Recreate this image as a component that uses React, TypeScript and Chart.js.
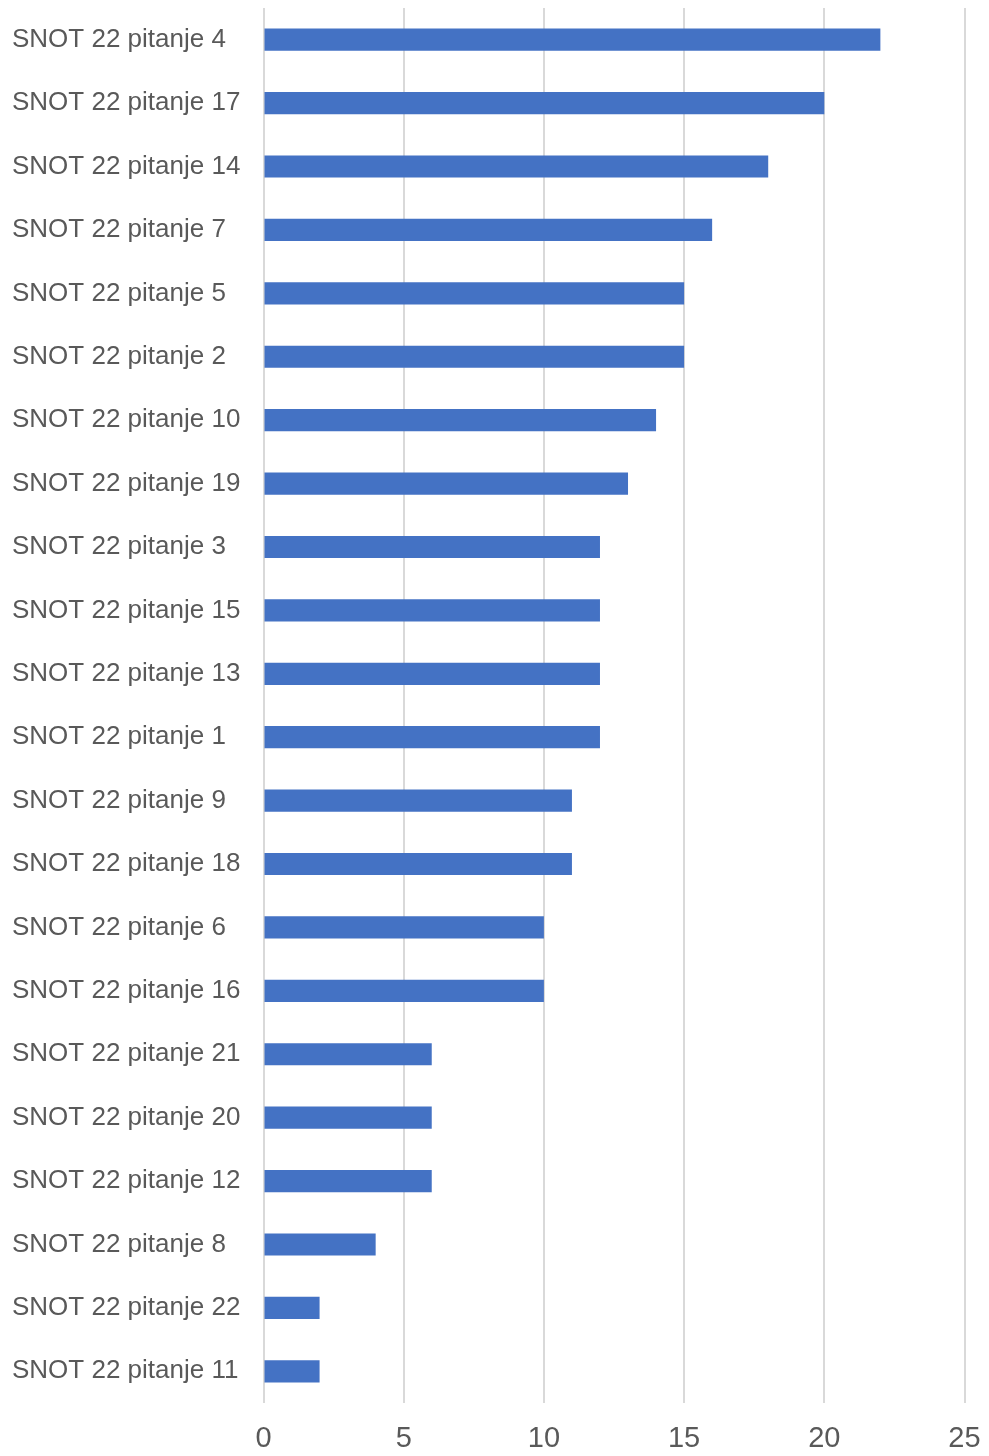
import React, { useEffect, useRef } from "react";
import { Chart, registerables } from "chart.js";

Chart.register(...registerables);

const categories = [
  "SNOT 22 pitanje 4",
  "SNOT 22 pitanje 17",
  "SNOT 22 pitanje 14",
  "SNOT 22 pitanje 7",
  "SNOT 22 pitanje 5",
  "SNOT 22 pitanje 2",
  "SNOT 22 pitanje 10",
  "SNOT 22 pitanje 19",
  "SNOT 22 pitanje 3",
  "SNOT 22 pitanje 15",
  "SNOT 22 pitanje 13",
  "SNOT 22 pitanje 1",
  "SNOT 22 pitanje 9",
  "SNOT 22 pitanje 18",
  "SNOT 22 pitanje 6",
  "SNOT 22 pitanje 16",
  "SNOT 22 pitanje 21",
  "SNOT 22 pitanje 20",
  "SNOT 22 pitanje 12",
  "SNOT 22 pitanje 8",
  "SNOT 22 pitanje 22",
  "SNOT 22 pitanje 11",
];

const values = [22, 20, 18, 16, 15, 15, 14, 13, 12, 12, 12, 12, 11, 11, 10, 10, 6, 6, 6, 4, 2, 2];

const xTicks = [0, 5, 10, 15, 20, 25];

export default function App() {
  const canvasRef = useRef<HTMLCanvasElement | null>(null);

  useEffect(() => {
    document.body.style.margin = "0";
    const canvas = canvasRef.current;
    if (!canvas) return;
    const chart = new Chart(canvas, {
      type: "bar",
      data: {
        labels: categories,
        datasets: [
          {
            data: values,
            backgroundColor: "#4472C4",
            borderWidth: 0,
            categoryPercentage: 1,
            barPercentage: 0.35,
          },
        ],
      },
      options: {
        indexAxis: "y",
        animation: false,
        responsive: false,
        maintainAspectRatio: false,
        layout: { padding: { top: 8, left: 12, right: 24.5, bottom: 0 } },
        plugins: {
          legend: { display: false },
          tooltip: { enabled: false },
          title: { display: false },
        },
        scales: {
          x: {
            min: 0,
            max: 25,
            afterBuildTicks: (axis: any) => {
              axis.ticks = xTicks.map((v) => ({ value: v }));
            },
            afterFit: (axis: any) => {
              axis.height = 53;
              axis.paddingLeft = 0;
              axis.paddingRight = 0;
            },
            grid: {
              display: true,
              color: "#d9d9d9",
              lineWidth: 2,
              drawTicks: false,
            },
            border: { display: false },
            ticks: {
              color: "#595959",
              font: { family: "'Liberation Sans', Arial, sans-serif", size: 29 },
              padding: 19,
              maxRotation: 0,
            },
          },
          y: {
            afterFit: (axis: any) => {
              axis.width = 251.5;
              axis.paddingTop = 0;
              axis.paddingBottom = 0;
            },
            grid: { display: false, drawTicks: false },
            border: { display: false },
            ticks: {
              color: "#595959",
              crossAlign: "far",
              font: { family: "'Liberation Sans', Arial, sans-serif", size: 26 },
              padding: 10,
              autoSkip: false,
            },
          },
        },
      },
    });
    return () => chart.destroy();
  }, []);

  return (
    <div style={{ width: 989, height: 1456 }}>
      <canvas ref={canvasRef} width={989} height={1456} style={{ display: "block" }} />
    </div>
  );
}
